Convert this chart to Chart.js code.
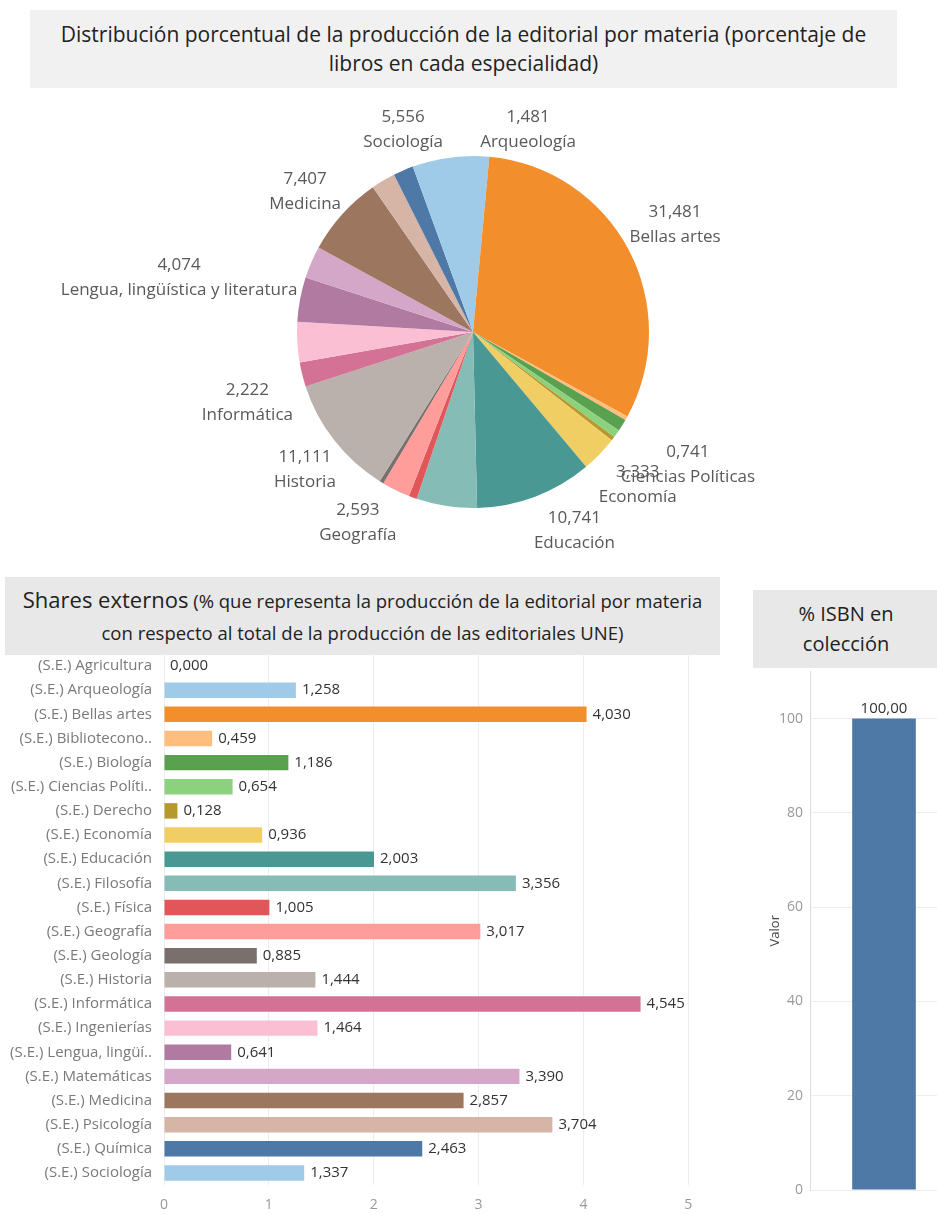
<!DOCTYPE html>
<html lang="es">
<head>
<meta charset="utf-8">
<title>Distribución y shares por materia</title>
<script src="https://cdn.jsdelivr.net/npm/chart.js@4.4.1/dist/chart.umd.min.js"></script>
<style>
  html, body { margin: 0; padding: 0; background: #fff; }
  body { width: 937px; height: 1214px; position: relative; overflow: hidden; font-family: 'Open Sans', sans-serif; }
  .box { position: absolute; color: #222; text-align: center; display: flex; flex-direction: column; justify-content: center; }
  #title-pie { left: 30px; top: 10px; width: 867px; height: 78px; background: #f1f1f1; font-size: 21px; line-height: 29px; }
  #title-bars { left: 5px; top: 577px; width: 715px; height: 78px; background: #e8e8e8; font-size: 18.5px; line-height: 32px; white-space: nowrap; }
  #title-bars .big { font-size: 22px; }
  #title-isbn { left: 753px; top: 590px; width: 186px; height: 78px; background: #e8e8e8; font-size: 20px; line-height: 30px; }
  canvas { position: absolute; }
  #pie { left: 0; top: 95px; }
  #bars { left: 0; top: 641px; }
  #isbn { left: 740px; top: 656px; }
</style>
</head>
<body>
<div class="box" id="title-pie">Distribución porcentual de la producción de la editorial por materia (porcentaje de<br>libros en cada especialidad)</div>
<canvas id="pie" width="937" height="460"></canvas>
<div class="box" id="title-bars"><div><span class="big">Shares externos</span> (% que representa la producción de la editorial por materia</div><div>con respecto al total de la producción de las editoriales UNE)</div></div>
<canvas id="bars" width="720" height="573"></canvas>
<div class="box" id="title-isbn">% ISBN en<br>colección</div>
<canvas id="isbn" width="218" height="558"></canvas>
<script>
const materias = ['Agricultura', 'Arqueología', 'Bellas artes', 'Biblioteconomía', 'Biología', 'Ciencias Políticas',
  'Derecho', 'Economía', 'Educación', 'Filosofía', 'Física', 'Geografía', 'Geología', 'Historia', 'Informática',
  'Ingenierías', 'Lengua, lingüística y literatura', 'Matemáticas', 'Medicina', 'Psicología', 'Química', 'Sociología'];
const distribucion = [0, 1.481, 31.481, 0.370, 1.111, 0.741, 0.370, 3.333, 10.741, 5.556, 0.741, 2.593, 0.370,
  11.111, 2.222, 3.704, 4.074, 2.963, 7.407, 2.222, 1.852, 5.556];
const pieLabeled = ['Arqueología', 'Bellas artes', 'Ciencias Políticas', 'Economía', 'Educación', 'Geografía',
  'Historia', 'Informática', 'Lengua, lingüística y literatura', 'Medicina', 'Sociología'];

const barLabels = ['(S.E.) Agricultura', '(S.E.) Arqueología', '(S.E.) Bellas artes', '(S.E.) Bibliotecono..',
  '(S.E.) Biología', '(S.E.) Ciencias Políti..', '(S.E.) Derecho', '(S.E.) Economía', '(S.E.) Educación',
  '(S.E.) Filosofía', '(S.E.) Física', '(S.E.) Geografía', '(S.E.) Geología', '(S.E.) Historia',
  '(S.E.) Informática', '(S.E.) Ingenierías', '(S.E.) Lengua, lingüí..', '(S.E.) Matemáticas', '(S.E.) Medicina',
  '(S.E.) Psicología', '(S.E.) Química', '(S.E.) Sociología'];
const shares = [0.000, 1.258, 4.030, 0.459, 1.186, 0.654, 0.128, 0.936, 2.003, 3.356, 1.005, 3.017, 0.885,
  1.444, 4.545, 1.464, 0.641, 3.390, 2.857, 3.704, 2.463, 1.337];
const shareTicks = [0, 1, 2, 3, 4, 5];

const isbnCats = ['% ISBN en colección'];
const isbnValues = [100];
const isbnTicks = [0, 20, 40, 60, 80, 100];

// tableau 20, one per materia (wraps after 20)
const colores = ['#4E79A7', '#A0CBE8', '#F28E2B', '#FFBE7D', '#59A14F', '#8CD17D', '#B6992D', '#F1CE63',
  '#499894', '#86BCB6', '#E15759', '#FF9D9A', '#79706E', '#BAB0AC', '#D37295', '#FABFD2', '#B07AA1',
  '#D4A6C8', '#9D7660', '#D7B5A6', '#4E79A7', '#A0CBE8'];

Chart.defaults.font.family = '"Open Sans", sans-serif';
Chart.defaults.animation = false;

const fmt = (v, d) => v.toFixed(d).replace('.', ',');

const pieLabels = {
  id: 'pieLabels',
  afterDatasetsDraw(chart, args, opts) {
    const ctx = chart.ctx;
    const meta = chart.getDatasetMeta(0);
    const lh = 25;
    ctx.save();
    ctx.font = '17px "Open Sans"';
    ctx.fillStyle = '#595959';
    ctx.textAlign = 'center';
    ctx.textBaseline = 'middle';
    meta.data.forEach((arc, i) => {
      const name = materias[i];
      if (!pieLabeled.includes(name)) return;
      const mid = (arc.startAngle + arc.endAngle) / 2;
      const r = arc.outerRadius + opts.gap;
      const value = fmt(distribucion[i], 3);
      const w = Math.max(ctx.measureText(value).width, ctx.measureText(name).width);
      const shift = opts.shift[name] || [0, 0];
      const cx = arc.x + Math.cos(mid) * (r + w / 2) + shift[0];
      const cy = arc.y + Math.sin(mid) * r + Math.sin(mid) * lh + shift[1];
      ctx.fillText(value, cx, cy - lh / 2);
      ctx.fillText(name, cx, cy + lh / 2);
    });
    ctx.restore();
  }
};

const barValues = {
  id: 'barValues',
  afterDatasetsDraw(chart, args, opts) {
    const ctx = chart.ctx;
    const meta = chart.getDatasetMeta(0);
    const data = chart.data.datasets[0].data;
    ctx.save();
    ctx.font = '15px "Open Sans"';
    ctx.fillStyle = '#333';
    meta.data.forEach((bar, i) => {
      const text = fmt(data[i], opts.decimals);
      if (chart.options.indexAxis === 'y') {
        ctx.textAlign = 'left';
        ctx.textBaseline = 'middle';
        ctx.fillText(text, bar.x + 6, bar.y);
      } else {
        ctx.textAlign = 'center';
        ctx.textBaseline = 'bottom';
        ctx.fillText(text, bar.x, bar.y - 2);
      }
    });
    ctx.restore();
  }
};

new Chart(document.getElementById('pie'), {
  type: 'pie',
  data: {
    labels: materias,
    datasets: [{ data: distribucion, backgroundColor: colores, borderWidth: 0 }]
  },
  options: {
    responsive: false,
    layout: { padding: { top: 61, bottom: 47, left: 9, right: 0 } },
    plugins: {
      legend: { display: false },
      tooltip: { enabled: false },
      pieLabels: {
        gap: 14,
        shift: {
          'Sociología': [-30, 9],
          'Arqueología': [44, 12],
          'Bellas artes': [-6, -6],
          'Ciencias Políticas': [5, 8],
          'Economía': [0, 3],
          'Educación': [20, -3],
          'Geografía': [-15, -3],
          'Historia': [6, 5],
          'Informática': [3, 19],
          'Lengua, lingüística y literatura': [9, -15],
          'Medicina': [0, 4]
        }
      }
    }
  },
  plugins: [pieLabels]
});

new Chart(document.getElementById('bars'), {
  type: 'bar',
  data: {
    labels: barLabels,
    datasets: [{ data: shares, backgroundColor: colores, barPercentage: 0.64, categoryPercentage: 1 }]
  },
  options: {
    indexAxis: 'y',
    responsive: false,
    layout: { padding: { top: 0, right: 16 } },
    plugins: { legend: { display: false }, tooltip: { enabled: false }, barValues: { decimals: 3 } },
    scales: {
      x: {
        min: 0,
        max: 5.15,
        afterBuildTicks: (s) => { s.ticks = shareTicks.map((v) => ({ value: v })); },
        ticks: { color: '#999', font: { size: 14 }, padding: 12 },
        grid: { color: '#ededed', drawTicks: false },
        border: { display: false },
        afterFit: (s) => { s.height = 29; }
      },
      y: {
        ticks: { color: '#7a7a7a', font: { size: 15 }, padding: 4 },
        grid: { display: false },
        border: { display: false },
        afterFit: (s) => { s.width = 164; }
      }
    }
  },
  plugins: [barValues]
});

new Chart(document.getElementById('isbn'), {
  type: 'bar',
  data: {
    labels: isbnCats,
    datasets: [{ data: isbnValues, backgroundColor: '#4E79A7', barPercentage: 0.43, categoryPercentage: 1 }]
  },
  options: {
    responsive: false,
    layout: { padding: { top: 0, bottom: 24, right: 0 } },
    plugins: { legend: { display: false }, tooltip: { enabled: false }, barValues: { decimals: 2 } },
    scales: {
      x: { display: false },
      y: {
        min: 0,
        max: 110,
        afterBuildTicks: (s) => { s.ticks = isbnTicks.map((v) => ({ value: v })); },
        ticks: { color: '#999', font: { size: 14 }, padding: 7 },
        grid: { color: '#eeeeee', drawTicks: false },
        border: { display: true, color: '#dddddd' },
        title: { display: true, text: 'Valor', color: '#444', font: { size: 13 }, padding: { top: 27, bottom: 0 } },
        afterFit: (s) => { s.width = 70; }
      }
    }
  },
  plugins: [barValues]
});
</script>
</body>
</html>
